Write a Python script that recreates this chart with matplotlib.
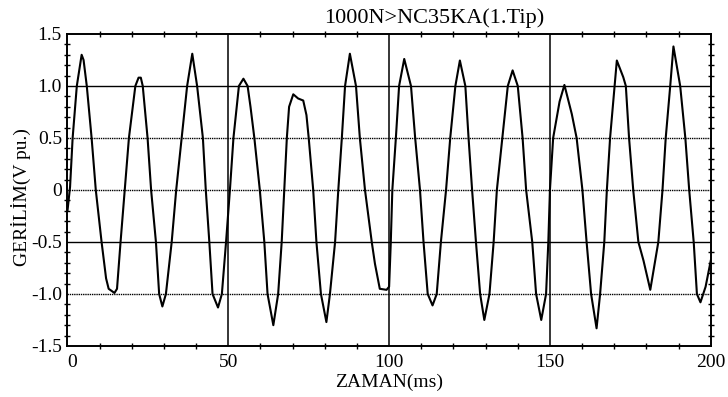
import matplotlib
matplotlib.use("Agg")
import matplotlib.pyplot as plt
from matplotlib.ticker import MultipleLocator

plt.rcParams['font.family'] = ['Liberation Serif', 'DejaVu Serif']

# waveform (time in ms, voltage in pu)
zaman = [0.0, 0.8, 1.6, 2.9, 4.4, 5.0, 6.0, 7.5, 8.8, 10.6, 12.0, 12.8, 14.6, 15.4,
         16.5, 17.8, 19.1, 21.1, 22.1, 22.8, 23.4, 24.9, 26.0, 27.5, 28.5, 29.5,
         30.6, 32.4, 33.8, 35.5, 37.2, 38.8, 40.3, 42.1, 43.0, 44.1, 45.1, 46.8,
         48.0, 49.3, 50.5, 51.6, 53.3, 54.7, 56.0, 56.9, 58.1, 59.8, 61.2, 62.2,
         64.0, 65.5, 66.6, 67.4, 68.2, 68.9, 70.2, 71.7, 73.3, 74.3, 75.0, 76.4,
         77.4, 78.8, 80.5, 81.6, 83.2, 84.2, 85.3, 86.3, 87.8, 89.7, 90.9, 92.5,
         94.6, 95.6, 97.1, 99.2, 100.0, 100.5, 101.0, 102.1, 103.1, 104.7, 106.8,
         108.1, 109.6, 110.7, 112.0, 113.5, 114.8, 116.1, 117.7, 119.0, 120.6,
         122.0, 123.7, 124.7, 125.8, 127.0, 128.3, 129.6, 131.2, 132.5, 133.5,
         135.2, 136.9, 138.4, 140.0, 141.5, 142.6, 144.5, 145.7, 147.3, 148.8,
         149.5, 150.0, 151.0, 153.0, 154.5, 156.8, 158.3, 160.1, 161.4, 162.8,
         164.5, 165.6, 166.9, 167.7, 168.7, 170.1, 170.8, 172.8, 173.6, 174.6,
         175.9, 177.5, 179.1, 181.2, 183.7, 185.0, 186.0, 187.4, 188.4, 190.5,
         192.1, 193.3, 194.7, 195.7, 196.8, 198.4, 200.0]
gerilim = [-0.20, 0.03, 0.50, 1.00, 1.30, 1.25, 1.00, 0.50, 0.00, -0.50, -0.85, -0.95, -0.99, -0.95,
           -0.50, 0.00, 0.50, 1.00, 1.08, 1.08, 1.00, 0.50, 0.00, -0.50, -1.00, -1.12,
           -1.00, -0.50, 0.00, 0.50, 1.00, 1.31, 1.00, 0.50, 0.00, -0.50, -1.00, -1.13,
           -1.00, -0.50, 0.00, 0.50, 1.00, 1.07, 1.00, 0.80, 0.50, 0.00, -0.50, -1.00,
           -1.30, -1.00, -0.50, 0.00, 0.50, 0.80, 0.92, 0.88, 0.86, 0.72, 0.50, 0.00,
           -0.50, -1.00, -1.27, -1.00, -0.50, 0.00, 0.50, 1.00, 1.31, 1.00, 0.50, 0.00,
           -0.50, -0.71, -0.95, -0.96, -0.93, -0.52, 0.00, 0.50, 1.00, 1.26, 1.00,
           0.50, 0.00, -0.50, -1.00, -1.11, -1.00, -0.50, 0.00, 0.50, 1.00,
           1.245, 1.00, 0.50, 0.00, -0.50, -1.00, -1.25, -1.00, -0.50, 0.00,
           0.50, 1.00, 1.15, 1.00, 0.50, 0.00, -0.50, -1.00, -1.25, -1.00,
           -0.50, 0.00, 0.50, 0.85, 1.01, 0.73, 0.50, 0.00, -0.50, -1.00,
           -1.33, -1.00, -0.50, 0.00, 0.50, 1.00, 1.245, 1.085, 1.00, 0.50,
           0.00, -0.50, -0.68, -0.96, -0.50, 0.00, 0.50, 1.00, 1.38, 1.00,
           0.50, 0.00, -0.50, -1.00, -1.08, -0.93, -0.68]

x_ticks = [0, 50, 100, 150, 200]
y_ticks = [1.5, 1.0, 0.5, 0, -0.5, -1.0, -1.5]
y_labels = ["1.5", "1.0", "0.5", "0", "-0.5", "-1.0", "-1.5"]

fig = plt.figure(figsize=(7.28, 3.97), dpi=100)
ax = fig.add_axes([0.0927, 0.1285, 0.8836, 0.7859])

# grid lines (some look solid, some dotted in the print)
for x in [50, 100, 150]:
	ax.axvline(x, color="black", lw=1.1, zorder=1)
for y, ls in [(1.0, "-"), (0.5, (0, (1, 0.6))), (0, (0, (1, 0.6))), (-0.5, "-"), (-1.0, (0, (1, 0.6)))]:
	ax.axhline(y, color="black", lw=1.0, ls=ls, zorder=1)

ax.plot(zaman, gerilim, color="black", lw=1.5, zorder=3)

ax.set_xlim(0, 200)
ax.set_ylim(-1.5, 1.5)
ax.set_xticks(x_ticks)
ax.set_yticks(y_ticks)
ax.set_yticklabels(y_labels)
ax.xaxis.set_minor_locator(MultipleLocator(10))
ax.yaxis.set_minor_locator(MultipleLocator(0.1))
ax.tick_params(which="both", direction="inout", top=True, right=True, width=1)
ax.tick_params(which="major", length=0, labelsize=14)
ax.tick_params(axis="x", which="major", pad=6)
ax.tick_params(axis="y", which="major", pad=4)
ax.tick_params(which="minor", length=4)
ax.get_xticklabels()[0].set_horizontalalignment("left")
for s in ax.spines.values():
	s.set_linewidth(1.4)

ax.set_title("1000N>NC35KA(1.Tip)", fontsize=16, x=0.57, y=1.051, va="center", pad=0)
ax.set_xlabel("ZAMAN(ms)", fontsize=14)
ax.xaxis.set_label_coords(0.5, -0.118)
ax.xaxis.label.set_va("center")
ax.set_ylabel("GERİLİM(V pu.)", fontsize=14)
ax.yaxis.set_label_coords(-0.072, 0.478)
ax.yaxis.label.set_va("center")

fig.savefig("out.png", dpi=100)
